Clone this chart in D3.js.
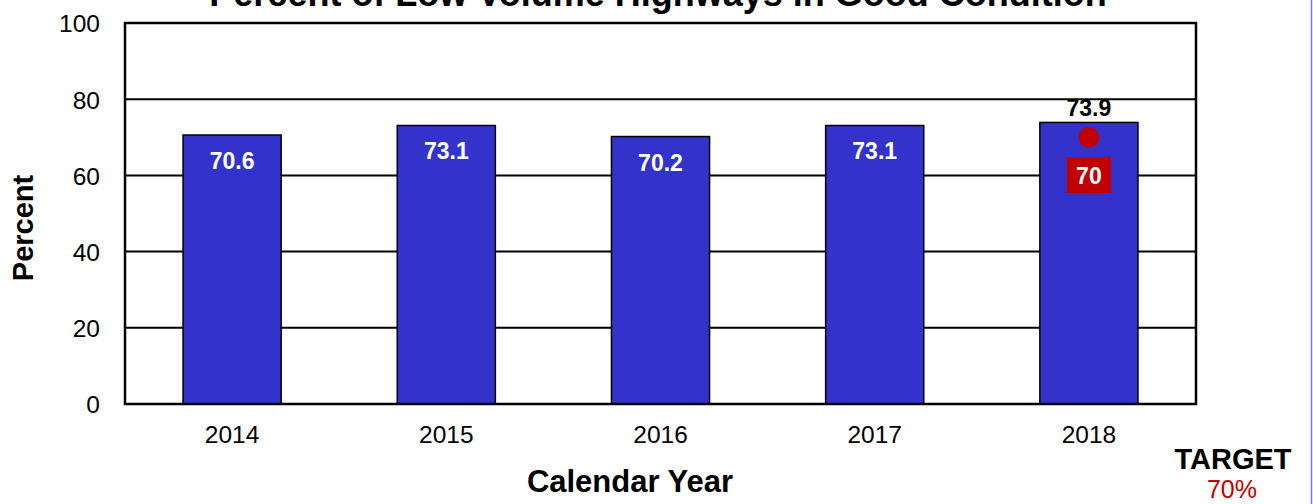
<!DOCTYPE html>
<html><head><meta charset="utf-8">
<script src="https://cdn.jsdelivr.net/npm/d3@7"></script>
<style>body{margin:0;background:#fff;}svg{display:block;font-family:"Liberation Sans",Arial,sans-serif;}</style>
</head><body>
<svg id="c" width="1313" height="504"></svg>
<script>
const years = ["2014","2015","2016","2017","2018"];
const values = [70.6, 73.1, 70.2, 73.1, 73.9];
const yTicks = [0,20,40,60,80,100];
const targetYear = "2018";
const targetValue = 70;
const title = "Percent of Low Volume Highways in Good Condition";

const svg = d3.select("#c");
const L=125, R=1196, T=23, B=404;
const x = d3.scaleBand().domain(years).range([L,R]).paddingInner(0.542).paddingOuter(0.271);
const y = d3.scaleLinear().domain([0,100]).range([B,T]);

// right edge line
svg.append("line").attr("x1",1311.5).attr("x2",1311.5).attr("y1",0).attr("y2",504).attr("stroke","#7a7ae0").attr("stroke-width",1.5);

// gridlines
svg.append("g").selectAll("line").data(yTicks.filter(d=>d>0&&d<100)).join("line")
  .attr("x1",L).attr("x2",R).attr("y1",d=>y(d)).attr("y2",d=>y(d))
  .attr("stroke","#000").attr("stroke-width",2);

// bars
svg.append("g").selectAll("rect").data(years).join("rect")
  .attr("x",d=>x(d)).attr("width",x.bandwidth())
  .attr("y",(d,i)=>y(values[i])).attr("height",(d,i)=>B-y(values[i]))
  .attr("fill","#3333cc").attr("stroke","#000").attr("stroke-width",1.5);

// plot border
svg.append("rect").attr("x",L).attr("y",T).attr("width",R-L).attr("height",B-T)
  .attr("fill","none").attr("stroke","#000").attr("stroke-width",2.5);

// y axis
const yAxis = d3.axisLeft(y).tickValues(yTicks).tickSize(0).tickPadding(25);
const gy = svg.append("g").attr("transform",`translate(${L},0)`).call(yAxis);
gy.select(".domain").remove();
gy.selectAll("text").attr("font-size",24.5).attr("fill","#000").attr("font-family","Liberation Sans, Arial, sans-serif").attr("dy","0.36em");

// x axis
const xAxis = d3.axisBottom(x).tickSize(0).tickPadding(22);
const gx = svg.append("g").attr("transform",`translate(0,${B})`).call(xAxis);
gx.select(".domain").remove();
gx.selectAll("text").attr("font-size",24.5).attr("fill","#000").attr("font-family","Liberation Sans, Arial, sans-serif");

// value labels
svg.append("g").selectAll("text").data(years).join("text")
  .attr("x",d=>x(d)+x.bandwidth()/2)
  .attr("y",(d,i)=> d===targetYear ? y(values[i])-6 : y(values[i])+34)
  .attr("text-anchor","middle").attr("font-size",23).attr("font-weight","bold")
  .attr("fill",d=>d===targetYear?"#000":"#fff")
  .text((d,i)=>values[i]);

// target marker
const tx = x(targetYear)+x.bandwidth()/2;
svg.append("circle").attr("cx",tx).attr("cy",y(targetValue)).attr("r",10.5).attr("fill","#c00000");
svg.append("rect").attr("x",tx-22).attr("y",157).attr("width",44).attr("height",36).attr("fill","#c00000");
svg.append("text").attr("x",tx).attr("y",184).attr("text-anchor","middle").attr("font-size",23).attr("font-weight","bold").attr("fill","#fff").text(targetValue);

// title (cut off at the top edge, as in the reference)
svg.append("text").attr("x",658).attr("y",6).attr("text-anchor","middle").attr("font-size",36).attr("font-weight","bold").attr("fill","#000").text(title);

// axis titles
svg.append("text").attr("transform","translate(33,228) rotate(-90)").attr("text-anchor","middle").attr("font-size",29).attr("font-weight","bold").text("Percent");
svg.append("text").attr("x",630).attr("y",492).attr("text-anchor","middle").attr("font-size",31).attr("font-weight","bold").text("Calendar Year");

// target legend
svg.append("text").attr("x",1233).attr("y",469).attr("text-anchor","middle").attr("font-size",29).attr("font-weight","bold").text("TARGET");
svg.append("text").attr("x",1232).attr("y",498).attr("text-anchor","middle").attr("font-size",25).attr("fill","#c00000").text(targetValue+"%");
</script>
</body></html>
